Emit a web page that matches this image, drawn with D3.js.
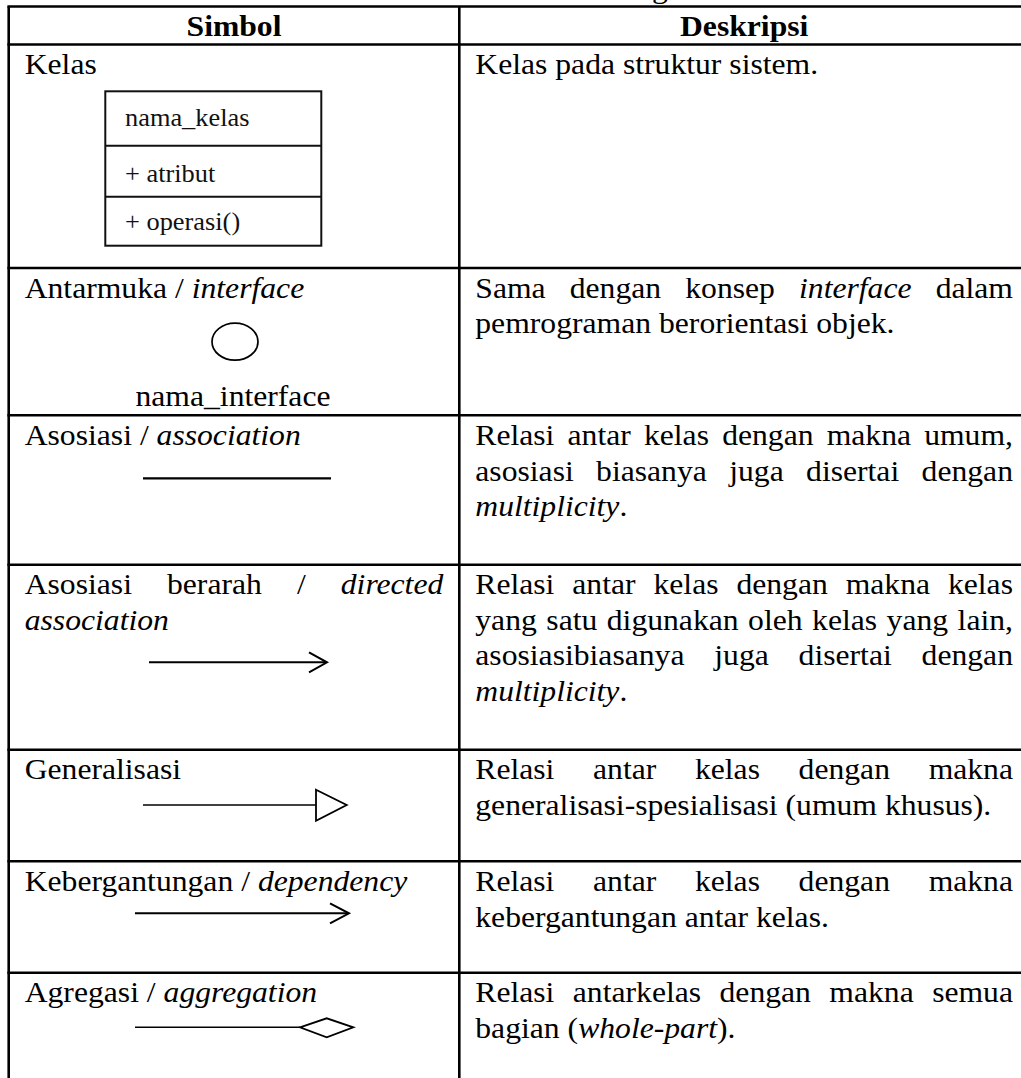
<!DOCTYPE html>
<html><head><meta charset="utf-8">
<script src="https://cdn.jsdelivr.net/npm/d3@7"></script>
<style>html,body{margin:0;padding:0;background:#fff;overflow:hidden}</style>
</head><body><svg id="c" width="1021" height="1078"></svg>
<script>
// ---------- data ----------
const caption = "Tabel 2.3 Simbol-simbol Diagram Kelas";
const headers = ["Simbol", "Deskripsi"];
const symbolTypes = ["class", "interface", "association", "directed", "generalization", "dependency", "aggregation"];
const symbolLabels = [
  ["Kelas"],
  ["Antarmuka / *interface*"],
  ["Asosiasi / *association*"],
  ["Asosiasi berarah / *directed*", "*association*"],
  ["Generalisasi"],
  ["Kebergantungan / *dependency*"],
  ["Agregasi / *aggregation*"]
];
const classCompartments = ["nama_kelas", "+ atribut", "+ operasi()"];
const interfaceName = "nama_interface";
const descriptions = [
  ["Kelas pada struktur sistem."],
  ["Sama dengan konsep *interface* dalam", "pemrograman berorientasi objek."],
  ["Relasi antar kelas dengan makna umum,", "asosiasi biasanya juga disertai dengan", "*multiplicity*."],
  ["Relasi antar kelas dengan makna kelas", "yang satu digunakan oleh kelas yang lain,", "asosiasibiasanya juga disertai dengan", "*multiplicity*."],
  ["Relasi antar kelas dengan makna", "generalisasi-spesialisasi (umum khusus)."],
  ["Relasi antar kelas dengan makna", "kebergantungan antar kelas."],
  ["Relasi antarkelas dengan makna semua", "bagian (*whole-part*)."]
];

// ---------- layout ----------
const FONT = "'Liberation Serif','Times New Roman',Times,serif";
const SX = 1.055;          // horizontal stretch of the reference
const FS = 30;             // main font size
const LH = 35.5;           // line height
const BASE = 29.7;         // first baseline offset in a row
const rowHeights = [223.5, 147.3, 149.4, 185, 111.6, 111.4, 200];
const tableTop = 6.5, headerBottom = 44.5;
const xLeft = 8.7, xDiv = 459.3, xRight = 1029;
const pad = 16;

const svg = d3.select("#c");
const rowTops = [];
{ let y = headerBottom; rowHeights.forEach(h => { rowTops.push(y); y += h; }); }
const rowY = d3.scaleOrdinal().domain(d3.range(rowHeights.length)).range(rowTops);
const colX = d3.scaleOrdinal().domain([0, 1]).range([xLeft, xDiv]);
const colW = [xDiv - xLeft, xRight - xDiv];

function parseLine(str) {
  const words = []; let italic = false, cur = [], buf = "";
  const flush = () => { if (buf) { cur.push({ t: buf, i: italic }); buf = ""; } };
  for (const ch of str) {
    if (ch === "*") { flush(); italic = !italic; }
    else if (ch === " ") { flush(); if (cur.length) { words.push(cur); cur = []; } }
    else buf += ch;
  }
  flush(); if (cur.length) words.push(cur);
  return words;
}
function styleText(t, size, weight) {
  return t.attr("font-family", FONT).attr("font-size", size).attr("font-weight", weight || "normal").attr("fill", "#000");
}
function measureWord(word, size, weight) {
  const t = styleText(svg.append("text"), size, weight);
  word.forEach(r => t.append("tspan").attr("font-style", r.i ? "italic" : "normal").text(r.t));
  const w = t.node().getComputedTextLength();
  t.remove();
  return w;
}
function drawLine(str, x0, y, width, justify, size, weight) {
  const words = parseLine(str);
  const ws = words.map(w => measureWord(w, size, weight));
  let gap = size * 0.25;
  if (justify && words.length > 1) gap = (width / SX - d3.sum(ws)) / (words.length - 1);
  const t = styleText(svg.append("text"), size, weight)
    .attr("transform", `translate(${x0},${y}) scale(${SX},1)`);
  let x = 0;
  words.forEach((w, k) => {
    w.forEach((r, j) => {
      const ts = t.append("tspan").attr("font-style", r.i ? "italic" : "normal").text(r.t);
      if (j === 0) ts.attr("x", x);
    });
    x += ws[k] + gap;
  });
  return t;
}
function drawCentered(str, cx, y, size, weight) {
  return styleText(svg.append("text"), size, weight)
    .attr("text-anchor", "middle")
    .attr("transform", `translate(${cx},${y}) scale(${SX},1)`)
    .text(str);
}
function drawParagraph(lines, col, row) {
  const x0 = colX(col) + pad, w = colW[col] - 2 * pad;
  lines.forEach((ln, i) => {
    drawLine(ln, x0, rowY(row) + BASE + i * LH, w, i < lines.length - 1, FS);
  });
}

// ---------- caption (mostly clipped above the page, as in the reference) ----------
{
  const t = styleText(svg.append("text"), FS).text(caption);
  const gi = caption.indexOf("g");
  const gx = t.node().getStartPositionOfChar(gi).x;
  t.attr("transform", `translate(${652 - gx * SX},-2.5) scale(${SX},1)`);
}

// ---------- table grid ----------
const grid = svg.append("g").attr("stroke", "#000").attr("stroke-width", 2.6);
[tableTop, headerBottom].concat(rowTops.slice(1)).forEach(y =>
  grid.append("line").attr("x1", xLeft - 1.3).attr("x2", 1021).attr("y1", y).attr("y2", y));
[xLeft, xDiv].forEach(x =>
  grid.append("line").attr("x1", x).attr("x2", x).attr("y1", tableTop).attr("y2", 1078));

// ---------- headers ----------
headers.forEach((h, i) => drawCentered(h, colX(i) + colW[i] / 2, 36, FS, "bold"));

// ---------- left column labels & descriptions ----------
symbolLabels.forEach((lines, r) => drawParagraph(lines, 0, r));
descriptions.forEach((lines, r) => drawParagraph(lines, 1, r));

// ---------- symbols ----------
const sym = svg.append("g").attr("fill", "none").attr("stroke", "#000");
function symbolAt(type, r) {
  const top = rowY(r);
  if (type === "class") {
    const bx = 105.3, bw = 216, by = top + 46.8;
    const compTops = [0, 54.4, 105.4, 154.4].map(d => by + d);
    sym.append("rect").attr("x", bx).attr("y", compTops[0]).attr("width", bw)
      .attr("height", compTops[3] - compTops[0]).attr("stroke-width", 2).attr("stroke", "#111");
    [1, 2].forEach(k => sym.append("line").attr("x1", bx).attr("x2", bx + bw)
      .attr("y1", compTops[k]).attr("y2", compTops[k]).attr("stroke-width", 2).attr("stroke", "#111"));
    const textOff = [34.7, 35.8, 33.5];
    classCompartments.forEach((c, k) => {
      styleText(svg.append("text"), 25).attr("fill", "#111")
        .attr("transform", `translate(${bx + 19.7},${compTops[k] + textOff[k]}) scale(${SX},1)`).text(c);
    });
  } else if (type === "interface") {
    sym.append("ellipse").attr("cx", 235).attr("cy", top + 73.7).attr("rx", 23).attr("ry", 18.5)
      .attr("stroke-width", 1.7);
    drawCentered(interfaceName, 233, top + 138, FS);
  } else if (type === "association") {
    const y = top + 63;
    sym.append("line").attr("x1", 143).attr("x2", 331).attr("y1", y).attr("y2", y).attr("stroke-width", 2.2);
  } else if (type === "directed") {
    const y = top + 97.6;
    sym.append("line").attr("x1", 149).attr("x2", 326).attr("y1", y).attr("y2", y).attr("stroke-width", 2);
    sym.append("path").attr("d", `M309,${y - 10}L327,${y}L309,${y + 10}`).attr("stroke-width", 2);
  } else if (type === "generalization") {
    const y = top + 55.3;
    sym.append("line").attr("x1", 143).attr("x2", 316).attr("y1", y).attr("y2", y).attr("stroke-width", 1.5);
    sym.append("path").attr("d", `M316,${y - 15.3}L346.7,${y}L316,${y + 15.7}Z`).attr("stroke-width", 1.8);
  } else if (type === "dependency") {
    const y = top + 52;
    sym.append("line").attr("x1", 135).attr("x2", 348).attr("y1", y).attr("y2", y).attr("stroke-width", 2);
    sym.append("path").attr("d", `M330,${y - 10}L349,${y}L330,${y + 10}`).attr("stroke-width", 2);
  } else if (type === "aggregation") {
    const y = top + 54.6;
    sym.append("line").attr("x1", 135).attr("x2", 300).attr("y1", y).attr("y2", y).attr("stroke-width", 1.5);
    sym.append("path").attr("d", `M300,${y}L326.7,${y - 9}L353.3,${y}L326.7,${y + 10}Z`).attr("stroke-width", 1.8);
  }
}
symbolTypes.forEach((t, r) => symbolAt(t, r));
</script>
</body></html>
